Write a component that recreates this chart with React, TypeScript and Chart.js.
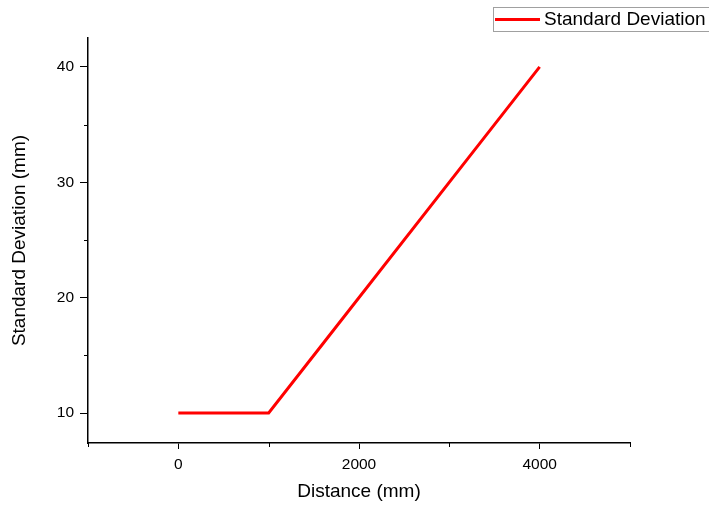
import React, { useEffect, useRef } from "react";
import { Chart, registerables } from "chart.js";

Chart.register(...registerables);

const distances = [0, 1000, 1600, 3200, 4000];
const stdDev = [10, 10, 16, 32, 40];
const seriesLabel = "Standard Deviation";
const xTitle = "Distance (mm)";
const yTitle = "Standard Deviation (mm)";
const xMajorTicks = [0, 2000, 4000];
const xMinorTicks = [-1000, 1000, 3000, 5000];
const yMajorTicks = [10, 20, 30, 40];
const yMinorTicks = [15, 25, 35];

const FONT = "'Liberation Sans', Arial, sans-serif";

const extrasPlugin = {
  id: "extras",
  afterDraw(chart: any) {
    const ctx = chart.ctx;
    const xs = chart.scales.x;
    const ys = chart.scales.y;
    ctx.save();
    ctx.strokeStyle = "#000";
    ctx.lineWidth = 1;
    // minor ticks
    xMinorTicks.forEach((v) => {
      const px = Math.round(xs.getPixelForValue(v)) + 0.5;
      ctx.beginPath();
      ctx.moveTo(px, xs.top);
      ctx.lineTo(px, xs.top + 4);
      ctx.stroke();
    });
    yMinorTicks.forEach((v) => {
      const py = Math.round(ys.getPixelForValue(v)) + 0.5;
      ctx.beginPath();
      ctx.moveTo(ys.right, py);
      ctx.lineTo(ys.right - 4, py);
      ctx.stroke();
    });
    // legend
    ctx.strokeStyle = "#a0a0a0";
    ctx.lineWidth = 1;
    ctx.strokeRect(493.5, 7.5, 230, 24);
    ctx.strokeStyle = "#ff0000";
    ctx.lineWidth = 3;
    ctx.beginPath();
    ctx.moveTo(495, 19.5);
    ctx.lineTo(540, 19.5);
    ctx.stroke();
    ctx.fillStyle = "#000";
    ctx.font = `19px ${FONT}`;
    ctx.textBaseline = "middle";
    ctx.textAlign = "left";
    ctx.fillText(seriesLabel, 544, 20);
    ctx.restore();
  },
};

export default function App() {
  const ref = useRef<HTMLCanvasElement | null>(null);
  useEffect(() => {
    if (!ref.current) return;
    const chart = new Chart(ref.current, {
      type: "line",
      data: {
        datasets: [
          {
            label: seriesLabel,
            data: distances.map((x, i) => ({ x, y: stdDev[i] })),
            borderColor: "#ff0000",
            backgroundColor: "#ff0000",
            borderWidth: 3,
            pointRadius: 0,
            tension: 0,
          },
        ],
      },
      options: {
        responsive: false,
        animation: false,
        layout: { padding: { top: 38, right: 79, left: 0, bottom: 0 } },
        plugins: { legend: { display: false }, tooltip: { enabled: false } },
        scales: {
          x: {
            type: "linear",
            min: -1000,
            max: 5000,
            afterBuildTicks: (s: any) => {
              s.ticks = xMajorTicks.map((v) => ({ value: v }));
            },
            afterFit: (s: any) => {
              s.height = 62;
            },
            ticks: {
              autoSkip: false,
              maxRotation: 0,
              padding: 6,
              color: "#000",
              font: { family: FONT, size: 15.5 },
              callback: (v: any) => String(v),
            },
            grid: {
              display: true,
              drawOnChartArea: false,
              drawTicks: true,
              tickLength: 6,
              tickColor: "#000",
              tickWidth: 1,
            },
            border: { display: true, color: "#000", width: 1.5 },
            title: {
              display: true,
              text: xTitle,
              color: "#000",
              font: { family: FONT, size: 19 },
              padding: { top: 0, bottom: 2 },
            },
          },
          y: {
            type: "linear",
            min: 7.4,
            max: 42.5,
            afterBuildTicks: (s: any) => {
              s.ticks = yMajorTicks.map((v) => ({ value: v }));
            },
            afterFit: (s: any) => {
              s.width = 88;
            },
            ticks: {
              autoSkip: false,
              padding: 6,
              color: "#000",
              font: { family: FONT, size: 15.5 },
              callback: (v: any) => String(v),
            },
            grid: {
              display: true,
              drawOnChartArea: false,
              drawTicks: true,
              tickLength: 8,
              tickColor: "#000",
              tickWidth: 1,
            },
            border: { display: true, color: "#000", width: 1.5 },
            title: {
              display: true,
              text: yTitle,
              color: "#000",
              font: { family: FONT, size: 19 },
              padding: { top: 8, bottom: 0 },
            },
          },
        },
      },
      plugins: [extrasPlugin],
    } as any);
    return () => chart.destroy();
  }, []);
  return (
    <div style={{ position: "fixed", left: 0, top: 0, width: 709, height: 505, background: "#fff" }}>
      <canvas ref={ref} width={709} height={505} style={{ display: "block" }} />
    </div>
  );
}
